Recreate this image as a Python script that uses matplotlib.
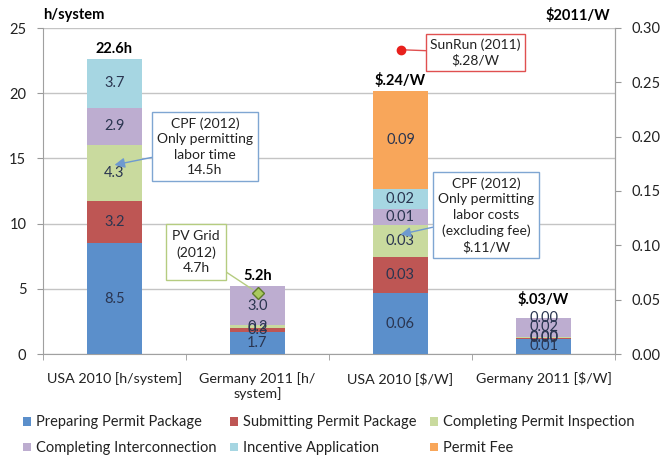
import matplotlib
matplotlib.use("Agg")
import matplotlib.pyplot as plt
import numpy as np
from matplotlib.patches import Patch

plt.rcParams['font.family'] = ['Lato', 'DejaVu Sans']

# ---- data ----
categories_h = ["USA 2010 [h/system]", "Germany 2011 [h/\nsystem]"]
categories_d = ["USA 2010 [$/W]", "Germany 2011 [$/W]"]
series_names = ["Preparing Permit Package", "Submitting Permit Package",
                "Completing Permit Inspection", "Completing Interconnection",
                "Incentive Application", "Permit Fee"]
colors = ["#5B8FCB", "#BE5654", "#C9DA9E", "#BDADD0", "#A6D6E2", "#F8A65A"]

# hours per system (None = blank cell)
usa_h = [8.5, 3.2, 4.3, 2.9, 3.7, None]
ger_h = [1.7, 0.3, 0.2, 3.0, None, None]
# $2011/W
usa_d = [0.056, 0.033, 0.030, 0.014, 0.019, 0.090]
ger_d = [0.014, 0.001, 0.001, 0.017, 0.0, None]

totals_h = ["22.6h", "5.2h"]
totals_d = ["$.24/W", "$.03/W"]

cpf_h = 14.5
pvgrid_h = 4.7
sunrun_d = 0.28
cpf_d = 0.11

fig = plt.figure(figsize=(6.67, 4.59), dpi=100)
ax = fig.add_axes([43/667, 1-354/459, (615-43)/667, (354-28)/459])
ax2 = ax.twinx()

bw = 0.39
txtc = "#2A3550"

def draw_stack(a, x, vals, fmt):
    bottom = 0.0
    for v, c in zip(vals, colors):
        if v is None:
            continue
        a.bar(x, v, bw, bottom=bottom, color=c, edgecolor='none', zorder=3)
        a.text(x, bottom + v/2, fmt.format(v), ha='center', va='center',
               fontsize=10.5, color=txtc, zorder=5)
        bottom += v
    return bottom

t0 = draw_stack(ax, 0, usa_h, "{:.1f}")
t1 = draw_stack(ax, 1, ger_h, "{:.1f}")
t2 = draw_stack(ax2, 2, usa_d, "{:.2f}")
t3 = draw_stack(ax2, 3, ger_d, "{:.2f}")

ax.text(0, t0 + 0.25, totals_h[0], ha='center', va='bottom', fontsize=10.5, fontweight='bold', color='black')
ax.text(1, t1 + 0.25, totals_h[1], ha='center', va='bottom', fontsize=10.5, fontweight='bold', color='black')
ax2.text(2, t2 + 0.003, totals_d[0].replace("$", r"\$"), ha='center', va='bottom', fontsize=10.5, fontweight='bold', color='black')
ax2.text(3, t3 + 0.010, totals_d[1].replace("$", r"\$"), ha='center', va='bottom', fontsize=10.5, fontweight='bold', color='black')

ax.set_xlim(-0.5, 3.5)
ax.set_ylim(0, 25)
ax2.set_ylim(0, 0.30)
ax.set_yticks(np.arange(0, 26, 5))
ax2.set_yticks(np.arange(0, 0.301, 0.05))
ax2.set_yticklabels([f"{v:.2f}" for v in np.arange(0, 0.301, 0.05)])

ax.set_xticks([0, 1, 2, 3])
ax.set_xticklabels(categories_h + categories_d, fontsize=10.3, color='#222222', linespacing=1.2)
ax.set_xticks([-0.5, 0.5, 1.5, 2.5, 3.5], minor=True)
ax.tick_params(axis='x', which='major', length=0, pad=13)
ax.tick_params(axis='x', which='minor', length=4, color='#999999', direction='out')
ax.tick_params(axis='y', length=4, color='#999999', labelsize=10.5, labelcolor='#222222', pad=8)
ax2.tick_params(axis='y', length=4, color='#999999', labelsize=10.5, labelcolor='#222222', pad=8)

ax.grid(axis='y', color='#C4C4C4', linewidth=1, zorder=0)
ax.set_axisbelow(True)
for a in (ax, ax2):
    a.spines['top'].set_visible(False)
    for s in ('left', 'right', 'bottom'):
        a.spines[s].set_color('#A0A0A0')
ax2.spines['left'].set_visible(False)
ax2.spines['bottom'].set_visible(False)

# axis titles
fig.text(43/667, 1-15/459, "h/system", ha='left', va='center', fontsize=10.5, fontweight='bold')
fig.text(610/667, 1-15/459, r"\$2011/W", ha='right', va='center', fontsize=10.5, fontweight='bold')

# annotations
blue_edge = "#7FA6D2"
ax.annotate("CPF (2012)\nOnly permitting\nlabor time\n14.5h", xy=(0, cpf_h), xytext=(0.633, 15.9),
            ha='center', va='center', fontsize=10, color='#222222', linespacing=1.35,
            bbox=dict(boxstyle='square,pad=0.35', fc='white', ec=blue_edge, lw=1),
            arrowprops=dict(arrowstyle='-|>,head_length=0.6,head_width=0.3', color='#6E9AD0', lw=1,
                            shrinkA=0, shrinkB=0), zorder=6)

ax2.annotate("CPF (2012)\nOnly permitting\nlabor costs\n(excluding fee)\n\\$.11/W", xy=(2, cpf_d), xytext=(2.598, 10.64*0.012),
             ha='center', va='center', fontsize=10, color='#222222', linespacing=1.35,
             bbox=dict(boxstyle='square,pad=0.35', fc='white', ec=blue_edge, lw=1),
             arrowprops=dict(arrowstyle='-|>,head_length=0.6,head_width=0.3', color='#6E9AD0', lw=1,
                             shrinkA=0, shrinkB=0), zorder=6)

ax.plot([1], [pvgrid_h], marker='D', markersize=6.5, color='#A9C95E', markeredgecolor='#5E7A2A', zorder=7)
ax.annotate("PV Grid\n(2012)\n4.7h", xy=(1, pvgrid_h), xytext=(0.57, 7.81),
            ha='center', va='center', fontsize=10, color='#222222', linespacing=1.35,
            bbox=dict(boxstyle='square,pad=0.45', fc='white', ec='#B5CC80', lw=1),
            arrowprops=dict(arrowstyle='-', color='#B5CC80', lw=1, shrinkA=0, shrinkB=4), zorder=6)

ax2.plot([2], [sunrun_d], marker='o', markersize=6, color='#E8201C', zorder=7)
ax2.annotate("SunRun (2011)\n\\$.28/W", xy=(2, sunrun_d), xytext=(2.525, 23.12*0.012),
             ha='center', va='center', fontsize=10, color='#222222', linespacing=1.35,
             bbox=dict(boxstyle='square,pad=0.3', fc='white', ec='#E05050', lw=1),
             arrowprops=dict(arrowstyle='-', color='#E05050', lw=1, shrinkA=0, shrinkB=0), zorder=6)

# legend (row-wise order in 3 columns)
handles = [Patch(facecolor=c, edgecolor='none') for c in colors]
order = [0, 3, 1, 4, 2, 5]
fig.legend([handles[i] for i in order], [series_names[i] for i in order],
           ncol=3, loc='lower left', bbox_to_anchor=(0.015, -0.02), frameon=False,
           fontsize=10.5, handlelength=0.55, handleheight=0.55, handletextpad=0.35,
           columnspacing=0.9, labelspacing=0.8, labelcolor='#222222')

fig.savefig("out.png", dpi=100)
